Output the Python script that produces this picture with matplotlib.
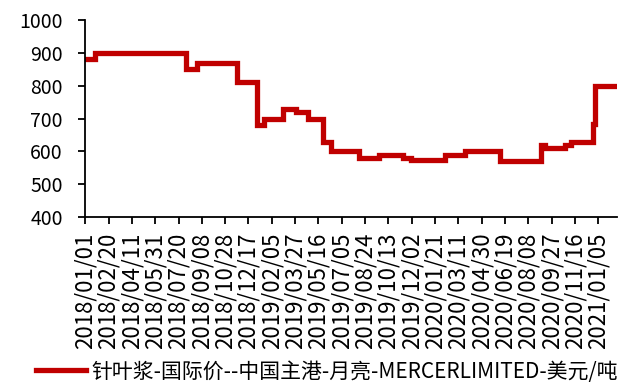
import pandas as pd
import matplotlib.pyplot as plt
import matplotlib.dates as mdates

plt.rcParams['font.family'] = ['Noto Sans CJK SC', 'DejaVu Sans']

# 价格调整日期与对应价格（美元/吨）
change_dates = ['2018-01-01', '2018-01-22', '2018-08-05', '2018-08-29', '2018-11-23',
                '2019-01-05', '2019-01-20', '2019-03-02', '2019-03-29', '2019-04-23',
                '2019-05-25', '2019-06-12', '2019-08-10', '2019-09-22', '2019-11-14',
                '2019-12-01', '2020-02-12', '2020-03-26', '2020-06-09', '2020-09-05',
                '2020-09-12', '2020-10-26', '2020-11-07', '2020-12-24', '2020-12-28',
                '2021-02-09']
prices = [880, 900, 850, 870, 810,
          680, 700, 730, 720, 700,
          630, 600, 580, 590, 580,
          575, 590, 600, 570, 620,
          610, 620, 630, 685, 800,
          800]
series_name = '针叶浆-国际价--中国主港-月亮-MERCERLIMITED-美元/吨'

dates = pd.to_datetime(change_dates)
start = pd.Timestamp('2018-01-01')
tick_dates = pd.date_range(start, periods=23, freq='50D')

fig = plt.figure(figsize=(6.22, 3.85), dpi=100)
ax = fig.add_axes([0.137, 0.436, 0.855, 0.512])

ax.plot(dates, prices, drawstyle='steps-post', color='#C00000', linewidth=3.8,
        solid_joinstyle='miter', label=series_name)

ax.set_ylim(400, 1000)
ax.set_yticks(range(400, 1001, 100))
ax.set_xlim(start, start + pd.Timedelta(days=1140))
ax.set_xticks(tick_dates)
ax.xaxis.set_major_formatter(mdates.DateFormatter('%Y/%m/%d'))

for side in ['top', 'right']:
    ax.spines[side].set_visible(False)
for side in ['left', 'bottom']:
    ax.spines[side].set_linewidth(1.3)
ax.tick_params(axis='x', direction='out', length=5, width=1.3, rotation=90,
               labelsize=16, pad=6)
ax.tick_params(axis='y', direction='out', length=5, width=1.3,
               labelsize=14, pad=11)

fig.legend(loc='center', bbox_to_anchor=(0.525, 0.035), frameon=False,
           fontsize=15, handlelength=2.4, handletextpad=0.25)

plt.savefig('out.png', dpi=100)
